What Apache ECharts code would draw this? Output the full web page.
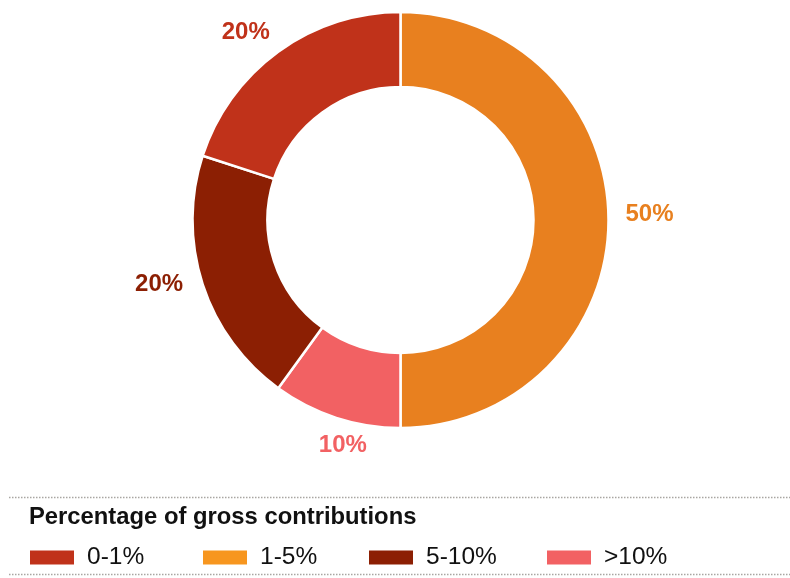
<!DOCTYPE html>
<html>
<head>
<meta charset="utf-8">
<style>
  html, body { margin: 0; padding: 0; background: #fff; }
  #chart { width: 790px; height: 578px; }
</style>
<script src="https://cdn.jsdelivr.net/npm/echarts@6/dist/echarts.min.js"></script>
</head>
<body>
<div id="chart"></div>
<script>
// Contribution bands and their share of gross contributions (%)
const categories = ['0-1%', '1-5%', '5-10%', '>10%'];
const shares = [20, 50, 20, 10];
// Order the slices are drawn in, clockwise from 12 o'clock
const drawOrder = [1, 3, 2, 0];

// Styling, per band
const sliceColors = ['#C0321A', '#E8801F', '#8C1F03', '#F26163'];
const legendColors = ['#C0321A', '#F7961F', '#8C1F03', '#F26163'];
const legendLeft = [28, 201, 367, 545];
// Small nudges so each value label sits clear of its slice
const labelNudge = [[-9, 13], [1, -5.5], [-5.5, -12], [19, -10]];

const FONT = '"Liberation Sans", Arial, Helvetica, sans-serif';
const center = [400.5, 220];

const ringData = drawOrder.map(i => ({
  name: categories[i],
  value: shares[i],
  itemStyle: { color: sliceColors[i] },
  label: { color: sliceColors[i], offset: labelNudge[i] }
}));

const legends = categories.map((name, i) => ({
  data: [{ name: name, itemStyle: { color: legendColors[i] } }],
  left: legendLeft[i],
  top: 545,
  padding: 0,
  icon: 'rect',
  itemWidth: 46,
  itemHeight: 16,
  selectedMode: false,
  textStyle: {
    fontFamily: FONT,
    fontSize: 24.5,
    color: '#111',
    padding: [0, 0, 0, 7]
  }
}));

const chart = echarts.init(document.getElementById('chart'), null, { renderer: 'canvas' });
chart.setOption({
  backgroundColor: '#ffffff',
  animation: false,
  title: {
    text: 'Percentage of gross contributions',
    left: 29,
    top: 505,
    padding: 0,
    textStyle: {
      fontFamily: FONT,
      fontSize: 23.8,
      fontWeight: 'bold',
      color: '#111'
    }
  },
  legend: legends,
  graphic: [
    {
      type: 'line',
      shape: { x1: 9, y1: 497.5, x2: 790, y2: 497.5 },
      style: { stroke: '#a9a6a2', lineWidth: 1.5, lineDash: [1.5, 1.5] },
      silent: true
    },
    {
      type: 'line',
      shape: { x1: 9, y1: 574.5, x2: 790, y2: 574.5 },
      style: { stroke: '#a9a6a2', lineWidth: 1.5, lineDash: [1.5, 1.5] },
      silent: true
    }
  ],
  series: [
    {
      type: 'pie',
      center: center,
      radius: [133, 208],
      startAngle: 90,
      clockwise: true,
      avoidLabelOverlap: false,
      label: { show: false },
      labelLine: { show: false },
      itemStyle: { borderColor: '#ffffff', borderWidth: 2.5 },
      emphasis: { disabled: true },
      data: ringData.map(d => ({ name: d.name, value: d.value, itemStyle: d.itemStyle }))
    },
    {
      // Transparent outer ring that carries the value labels
      type: 'pie',
      center: center,
      radius: [228, 262],
      startAngle: 90,
      clockwise: true,
      silent: true,
      legendHoverLink: false,
      avoidLabelOverlap: false,
      itemStyle: { color: 'rgba(0,0,0,0)' },
      label: {
        show: true,
        position: 'inside',
        formatter: '{c}%',
        fontFamily: FONT,
        fontSize: 24,
        fontWeight: 'bold'
      },
      labelLine: { show: false },
      emphasis: { disabled: true },
      data: ringData.map(d => ({
        name: d.name,
        value: d.value,
        itemStyle: { color: 'rgba(0,0,0,0)' },
        label: d.label
      }))
    }
  ]
});
</script>
</body>
</html>
